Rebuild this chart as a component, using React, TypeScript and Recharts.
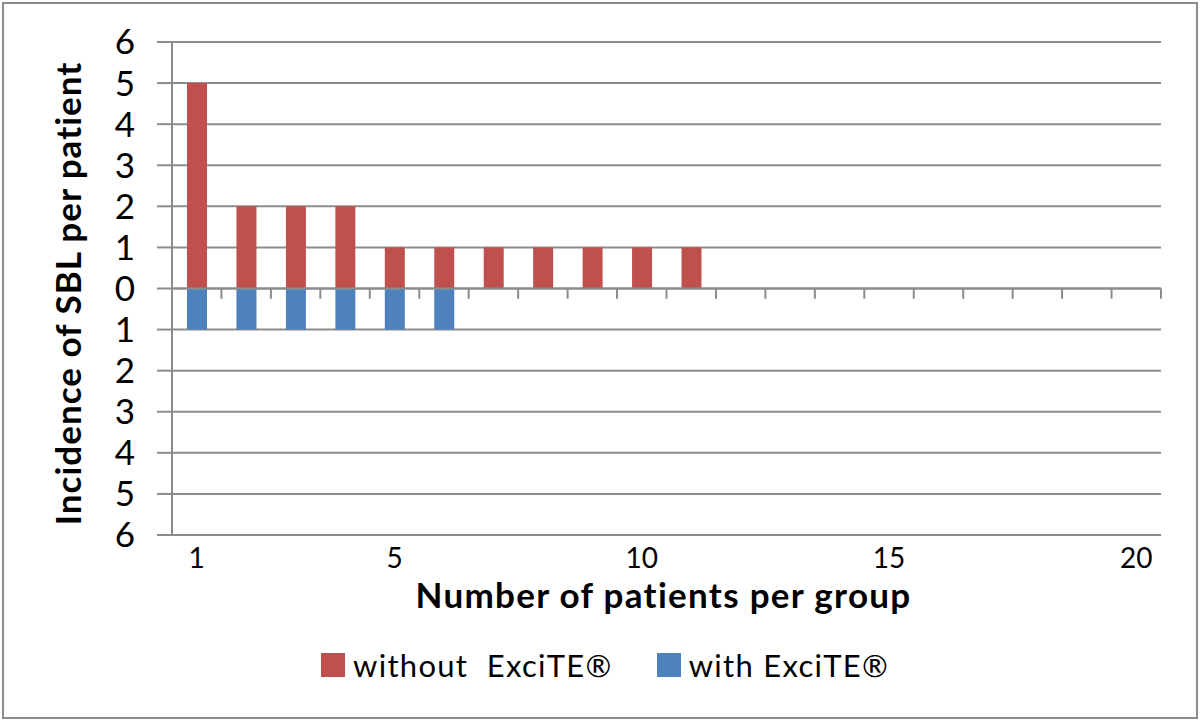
import React from 'react';
import {
  Bar,
  BarChart,
  CartesianGrid,
  Label,
  ReferenceLine,
  XAxis,
  YAxis,
} from 'recharts';

const categories = [1, 2, 3, 4, 5, 6, 7, 8, 9, 10, 11, 12, 13, 14, 15, 16, 17, 18, 19, 20];
const withoutExcite = [5, 2, 2, 2, 1, 1, 1, 1, 1, 1, 1, 0, 0, 0, 0, 0, 0, 0, 0, 0];
const withExcite = [-1, -1, -1, -1, -1, -1, 0, 0, 0, 0, 0, 0, 0, 0, 0, 0, 0, 0, 0, 0];
const yTicks = [-6, -5, -4, -3, -2, -1, 0, 1, 2, 3, 4, 5, 6];
const xLabels = [1, 5, 10, 15, 20];

const RED = '#C0504D';
const BLUE = '#4F81BD';
const GRID = '#8c8c8c';
const FONT = 'Lato, "Liberation Sans", sans-serif';

const data = categories.map((n, i) => ({
  n,
  without: withoutExcite[i],
  with: withExcite[i],
}));

// small tick marks on the zero line, between categories
const boundaries = categories.map((n) => n + 0.5);

const swatch = (color: string) => (
  <span style={{ width: 24, height: 24, background: color, display: 'inline-block', flex: 'none' }} />
);

const LegendBox = () => (
  <div
    style={{
      position: 'absolute',
      top: 648,
      left: 321,
      height: 34,
      display: 'flex',
      alignItems: 'center',
      fontFamily: FONT,
      fontSize: 31,
      letterSpacing: 1.3,
      color: '#000',
      whiteSpace: 'pre',
    }}
  >
    {swatch(RED)}
    <span style={{ marginLeft: 8 }}>without  ExciTE®</span>
    <span style={{ marginLeft: 44, display: 'flex', alignItems: 'center' }}>
      {swatch(BLUE)}
      <span style={{ marginLeft: 8 }}>with ExciTE®</span>
    </span>
  </div>
);

export default function App() {
  return (
    <div style={{ position: 'absolute', left: 0, top: 0, width: 1200, height: 722, background: '#fff' }}>
      <div
        style={{
          position: 'absolute',
          left: 2,
          top: 2,
          width: 1196,
          height: 717,
          boxSizing: 'border-box',
          border: `2px solid ${GRID}`,
        }}
      />
      <div style={{ position: 'absolute', left: 0, top: 0 }}>
        <BarChart
          width={1200}
          height={722}
          data={data}
          stackOffset="sign"
          barSize={20}
          margin={{ top: 42, right: 39, left: 0, bottom: 147 }}
        >
          <CartesianGrid vertical={false} stroke={GRID} strokeWidth={2} />
          <XAxis
            dataKey="n"
            height={40}
            interval={0}
            axisLine={false}
            tickLine={false}
            tickMargin={7}
            tickFormatter={(v) => (xLabels.includes(v) ? String(v) : '')}
            tick={{ fill: '#000', fontSize: 28, fontFamily: FONT }}
          >
            <Label
              content={({ viewBox }: any) => (
                <text
                  x={viewBox.x + viewBox.width / 2 - 3}
                  y={viewBox.y + 73}
                  textAnchor="middle"
                  fontFamily={FONT}
                  fontWeight="bold"
                  fontSize={35}
                  letterSpacing={1.3}
                  fill="#000"
                >
                  Number of patients per group
                </text>
              )}
            />
          </XAxis>
          <XAxis xAxisId="num" type="number" dataKey="n" domain={[0.5, 20.5]} hide allowDataOverflow />
          <YAxis
            width={172}
            domain={[-6, 6]}
            ticks={yTicks}
            interval={0}
            tickFormatter={(v) => String(Math.abs(v))}
            tickSize={15}
            tickMargin={22}
            axisLine={{ stroke: GRID, strokeWidth: 2 }}
            tickLine={{ stroke: GRID, strokeWidth: 2 }}
            tick={{ fill: '#000', fontSize: 35, fontFamily: FONT }}
          >
            <Label
              content={({ viewBox }: any) => {
                const cy = viewBox.y + viewBox.height / 2 + 5;
                return (
                  <text
                    x={81}
                    y={cy}
                    transform={`rotate(-90 81 ${cy})`}
                    textAnchor="middle"
                    fontFamily={FONT}
                    fontWeight="bold"
                    fontSize={35}
                    letterSpacing={1}
                    fill="#000"
                  >
                    Incidence of SBL per patient
                  </text>
                );
              }}
            />
          </YAxis>
          <ReferenceLine y={0} stroke={GRID} strokeWidth={2} />
          {boundaries.map((b) => (
            <ReferenceLine
              key={b}
              xAxisId="num"
              segment={[
                { x: b, y: 0 },
                { x: b, y: -0.25 },
              ]}
              stroke={GRID}
              strokeWidth={2}
            />
          ))}
          <Bar dataKey="without" stackId="a" fill={RED} isAnimationActive={false} />
          <Bar dataKey="with" stackId="a" fill={BLUE} isAnimationActive={false} />
        </BarChart>
      </div>
      <LegendBox />
    </div>
  );
}
